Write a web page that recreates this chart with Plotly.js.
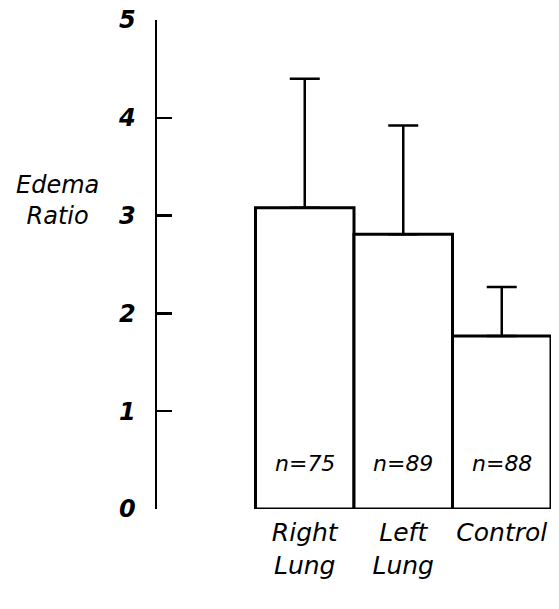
<!DOCTYPE html>
<html>
<head>
<meta charset="utf-8">
<script src="https://cdn.plot.ly/plotly-3.0.1.min.js"></script>
<style>html,body{margin:0;padding:0;background:#fff;}#chart{width:559px;height:609px;}</style>
</head>
<body>
<div id="chart"></div>
<script>
const categories = ["Right<br>Lung", "Left<br>Lung", "Control"];
const edemaRatio = [3.08, 2.81, 1.77];
const sdError = [1.32, 1.11, 0.50];
const sampleLabels = ["n=75", "n=89", "n=88"];
const yTickValues = [0, 1, 2, 3, 4, 5];
const yTickLabels = ["0", "1", "2", "3", "4", "5"];

const xIdx = categories.map((c, i) => i);
const hand = {family: "DejaVu Sans, sans-serif", color: "#000"};

const trace = {
  type: "bar",
  x: xIdx,
  y: edemaRatio,
  width: 1,
  marker: {color: "#fff", line: {color: "#000", width: 3}},
  error_y: {type: "data", array: sdError, symmetric: false, arrayminus: [0,0,0],
            visible: true, color: "#000", thickness: 2.5, width: 15},
  hoverinfo: "none"
};

const annotations = sampleLabels.map((t, i) => ({
  x: i, y: 0.47, xref: "x", yref: "y", text: t, showarrow: false,
  font: Object.assign({size: 22, style: "italic"}, hand)
}));
annotations.push({
  xref: "paper", yref: "paper",
  x: (57 - 157) / 394, y: (509 - 200) / 489,
  xanchor: "center", yanchor: "middle",
  text: "Edema<br>Ratio", showarrow: false,
  font: Object.assign({size: 24, style: "italic"}, hand)
});

const layout = {
  width: 559, height: 609,
  margin: {l: 157, r: 8, t: 20, b: 100},
  paper_bgcolor: "#fff", plot_bgcolor: "#fff",
  showlegend: false,
  bargap: 0,
  xaxis: {
    range: [-1.5, 2.5],
    tickvals: xIdx, ticktext: categories,
    showline: false, showgrid: false, zeroline: false, ticks: "",
    tickfont: Object.assign({size: 25, style: "italic"}, hand),
    ticklabelstandoff: 6
  },
  yaxis: {
    range: [0, 5],
    tickvals: yTickValues, ticktext: yTickLabels,
    showline: true, linecolor: "#000", linewidth: 2.5,
    showgrid: false, zeroline: false,
    ticks: "inside", ticklen: 15, tickwidth: 2.5, tickcolor: "#000",
    tickfont: Object.assign({size: 24, weight: "bold", style: "italic"}, hand),
    ticklabelstandoff: 14
  },
  annotations: annotations
};

Plotly.newPlot("chart", [trace], layout, {displayModeBar: false, staticPlot: true});
</script>
</body>
</html>
